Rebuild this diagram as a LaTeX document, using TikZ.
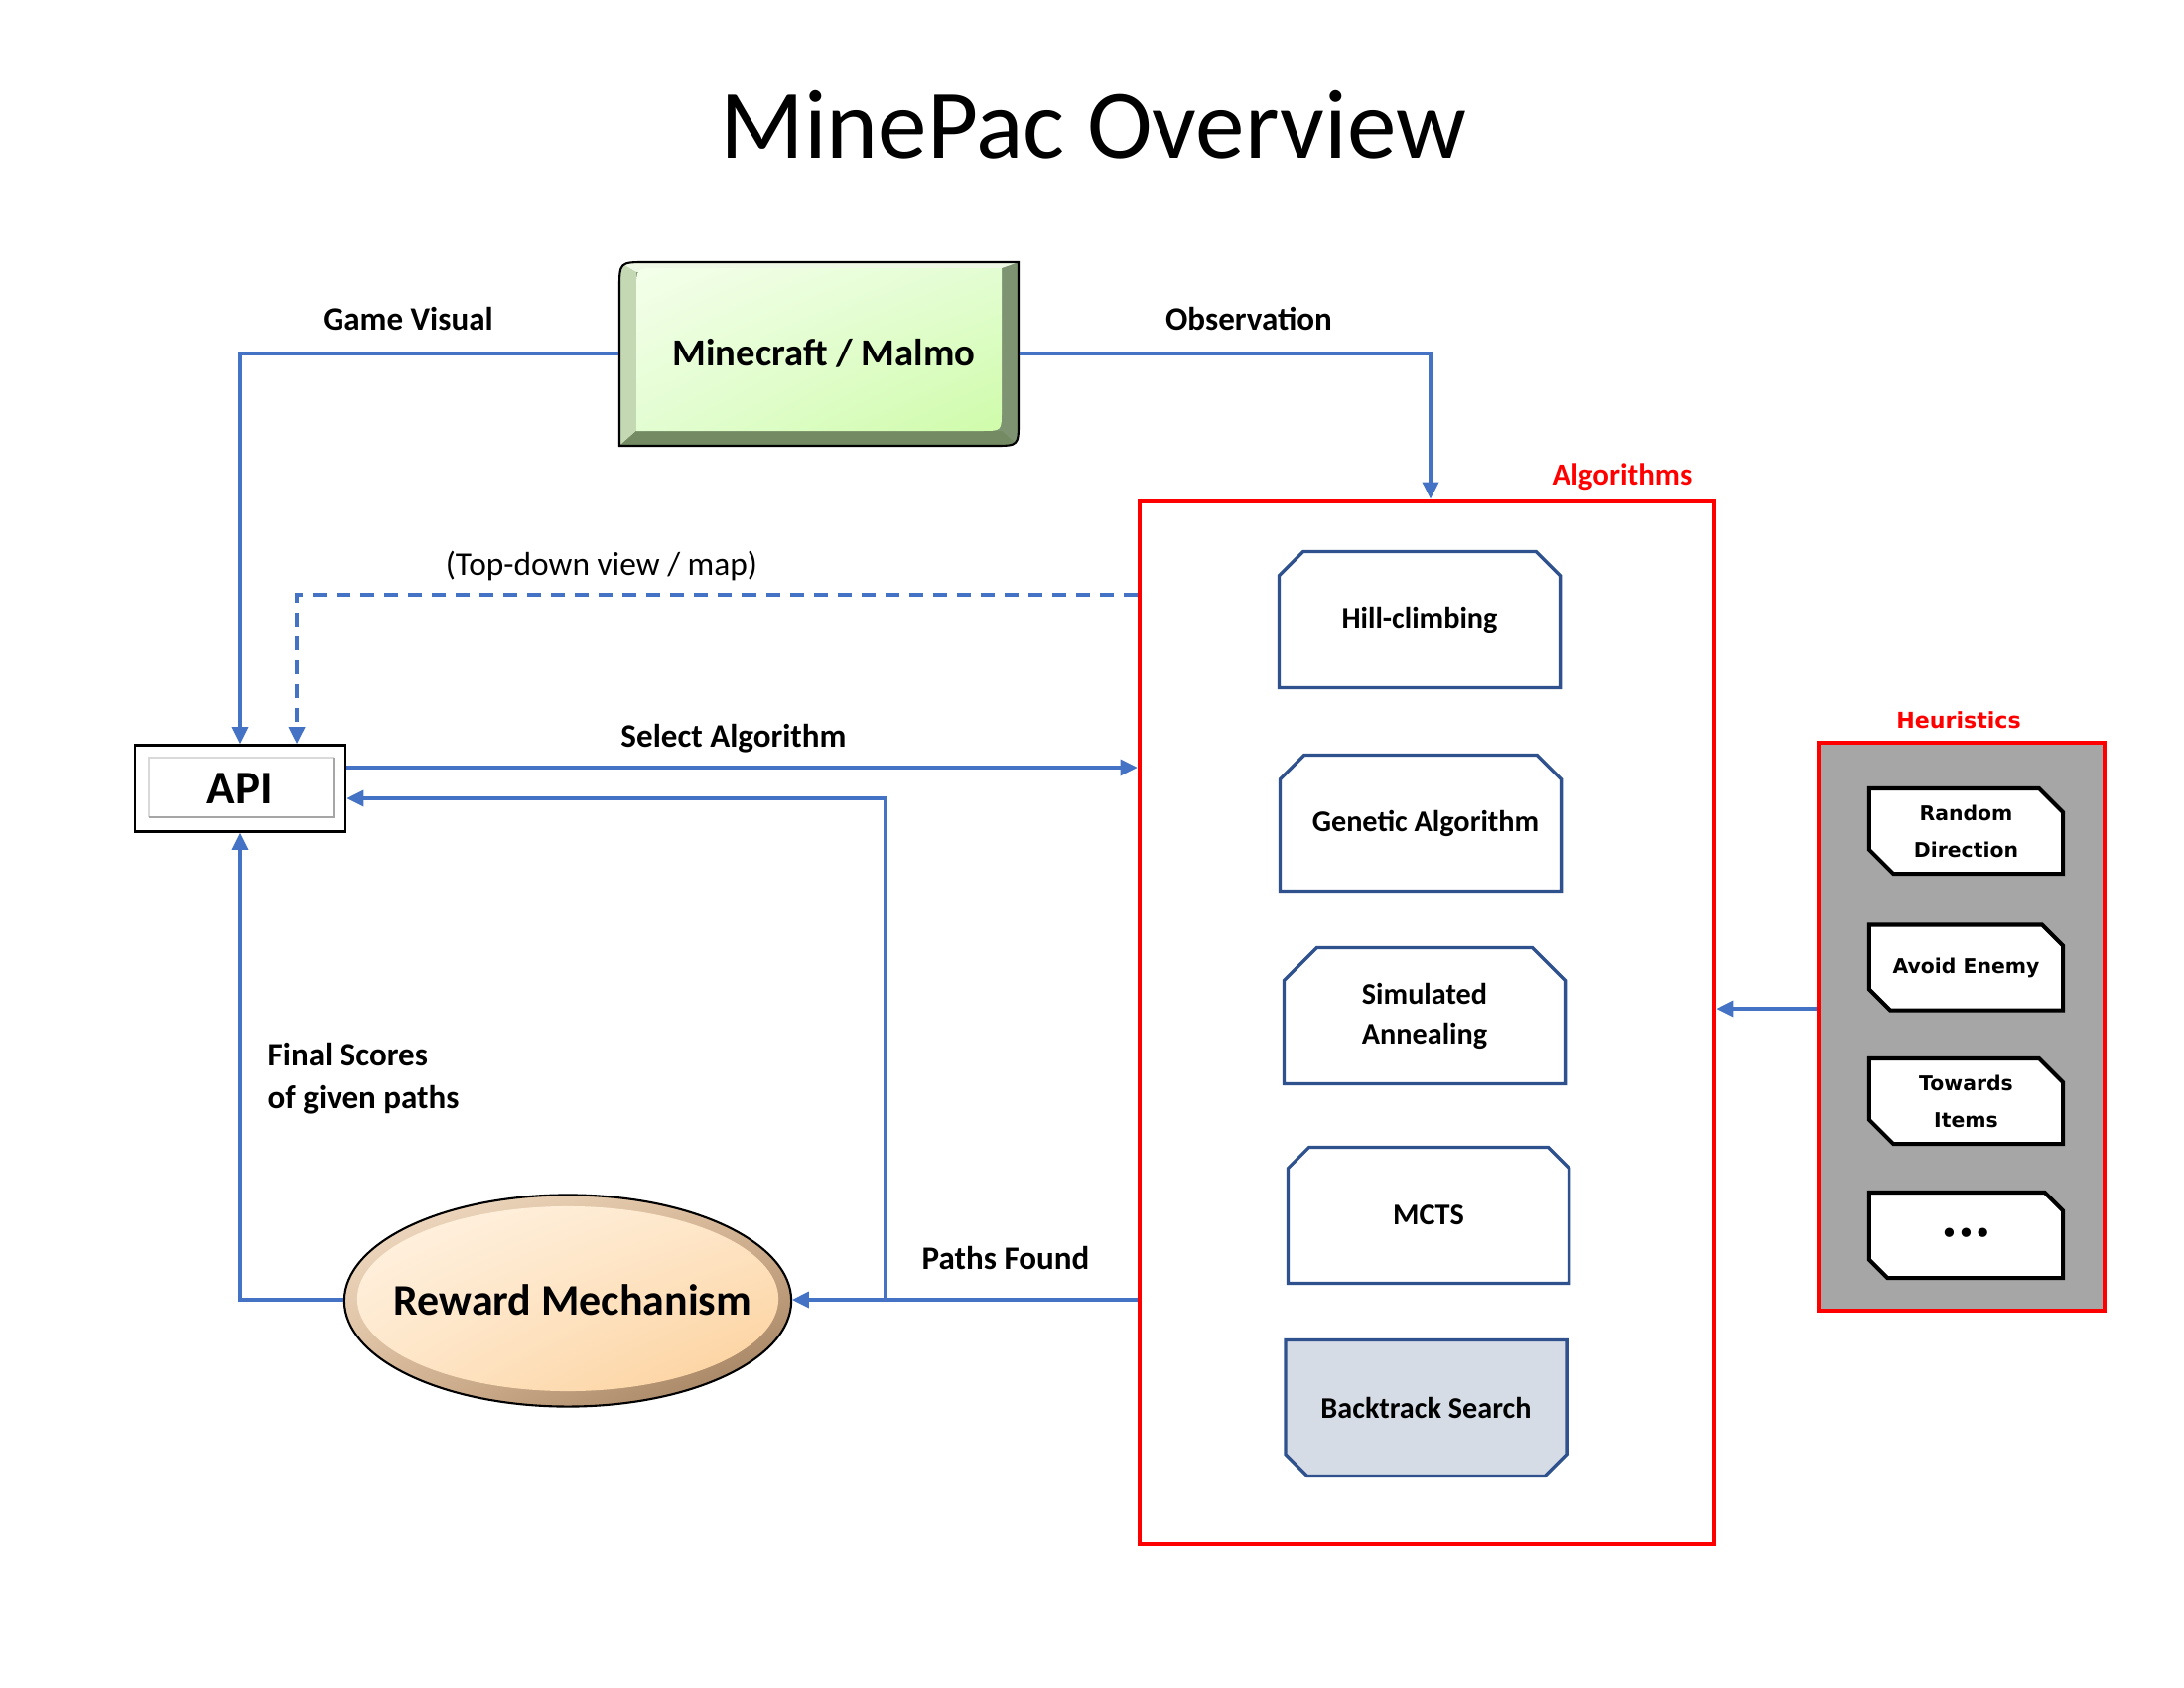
\documentclass[tikz,border=0pt]{standalone}
\usepackage{fontspec}
\setmainfont{Carlito}
\newfontfamily\djv{DejaVu Sans}
\usetikzlibrary{arrows.meta,shapes.misc,shapes.geometric,shadings}
\definecolor{connblue}{HTML}{4472C4}
\definecolor{algblue}{HTML}{2F528F}
\definecolor{btfill}{HTML}{D6DCE5}
\definecolor{heurgray}{HTML}{A6A6A6}
\definecolor{mcA}{HTML}{F4FFEA}
\definecolor{mcB}{HTML}{E3FDD2}
\definecolor{mcC}{HTML}{CFFCAA}
\definecolor{mcleft}{HTML}{C3D8B3}
\definecolor{mcbottom}{HTML}{738A63}
\definecolor{mcright}{HTML}{7D9371}
\definecolor{mctop}{HTML}{EEF8E4}
\definecolor{rmA}{HTML}{FFF3E4}
\definecolor{rmB}{HTML}{FEE6C8}
\definecolor{rmC}{HTML}{FCCF98}
\definecolor{ringA}{HTML}{F3E0CA}
\definecolor{ringB}{HTML}{D8B896}
\definecolor{ringC}{HTML}{9A7858}
\tikzset{
  connector/.style={draw=connblue, line width=0.95pt, -{Triangle[length=0.17cm,width=0.16cm]}},
  dashconn/.style={connector, dash pattern=on 0.14cm off 0.1cm},
  algbox/.style={chamfered rectangle, chamfered rectangle corners={north west,north east},
    chamfered rectangle xsep=0.22cm, draw=algblue, fill=white, line width=0.95pt,
    minimum width=2.83cm, minimum height=1.37cm, inner sep=0pt, align=center,
    font=\bfseries\fontsize{8.6}{11.4}\selectfont},
  heurbox/.style={chamfered rectangle, chamfered rectangle corners={north east,south west},
    chamfered rectangle xsep=0.13cm, draw=black, fill=white, line width=1.15pt,
    minimum width=1.95cm, minimum height=0.86cm, inner sep=0pt, align=center,
    font=\djv\bfseries\fontsize{5.8}{10.5}\selectfont},
  lbl/.style={font=\bfseries\fontsize{9.4}{12.2}\selectfont, inner sep=0pt},
  redbox/.style={draw=red, line width=1.2pt, inner sep=0pt},
}
\begin{document}
\begin{tikzpicture}[x=0.01cm,y=-0.01cm]
\useasboundingbox[fill=white] (0,0) rectangle (2200,1700);

% Title
\node[font=\fontsize{28.2}{34}\selectfont] (title) at (1101,126) {MinePac Overview};

% Minecraft / Malmo bevelled box
\begin{scope}
\path[clip] (624,449) -- (624,291) .. controls (624,264) .. (651,264) -- (1026,264) -- (1026,424) .. controls (1026,449) .. (1001,449) -- cycle;
\fill[mcright] (600,250) rectangle (1050,470);
\fill[mcleft] (624,264) -- (641,274) -- (641,434) -- (624,449) -- cycle;
\fill[mcbottom] (624,449) -- (641,434) -- (1009,434) -- (1026,449) -- cycle;
\fill[mctop] (624,264) -- (1026,264) -- (1009,270) -- (641,274) -- cycle;
\shade[upper left=mcA, upper right=mcB, lower left=mcB, lower right=mcC]
  (641,434) -- (641,292) .. controls (641,270) .. (663,270) -- (1009,270) -- (1009,414) .. controls (1009,434) .. (989,434) -- cycle;
\end{scope}
\draw[line width=0.6pt] (624,449) -- (624,291) .. controls (624,264) .. (651,264) -- (1026,264) -- (1026,424) .. controls (1026,449) .. (1001,449) -- cycle;
\node[font=\bfseries\fontsize{11}{13}\selectfont, minimum width=4.02cm, minimum height=1.85cm, inner sep=0pt] (mc) at (825,356) {\hspace*{0.1cm}Minecraft / Malmo};

% API box
\node[draw=black, line width=0.7pt, minimum width=2.12cm, minimum height=0.87cm, inner sep=0pt] (api) at (242,794) {};
\draw[color=black!15, line width=0.6pt] (150,823) -- (150,763) -- (336,763);
\draw[color=black!35, line width=0.6pt] (150,823) -- (336,823) -- (336,763);
\node[font=\bfseries\fontsize{13.4}{16}\selectfont, inner sep=0pt] (apit) at (242,794) {API};

% Algorithms container
\node[redbox, minimum width=5.79cm, minimum height=10.5cm] (alg) at (1437.5,1030) {};
\node[lbl, text=red, font=\bfseries\fontsize{8.8}{11}\selectfont] (lalg) at (1634,480) {Algorithms};

\node[algbox] (hill) at (1430,624) {Hill-climbing};
\node[algbox] (gen) at (1431,829) {\hspace*{0.1cm}Genetic Algorithm};
\node[algbox] (sim) at (1435,1023) {Simulated\\Annealing};
\node[algbox] (mcts) at (1439,1224) {MCTS};
\node[algbox, chamfered rectangle corners={south west,south east}, fill=btfill] (bt) at (1436.5,1418) {Backtrack Search};

% Heuristics container
\node[redbox, fill=heurgray, minimum width=2.88cm, minimum height=5.72cm] (heur) at (1976,1034) {};
\node[font=\djv\bfseries\fontsize{6.3}{7}\selectfont, text=red, inner sep=0pt] (lheu) at (1973,725) {Heuristics};
\node[heurbox] (h1) at (1980.5,837) {Random\\Direction};
\node[heurbox] (h2) at (1980.5,974.5) {Avoid Enemy};
\node[heurbox] (h3) at (1980.5,1109) {Towards\\Items};
\node[heurbox, font=\djv\bfseries\fontsize{7.5}{9}\selectfont] (h4) at (1980.5,1244) {•••};

% Reward Mechanism ellipse
\shade[upper left=ringA, upper right=ringB, lower left=ringB, lower right=ringC]
  (572,1310) ellipse [x radius=2.25cm, y radius=1.065cm];
\shade[upper left=rmA, upper right=rmB, lower left=rmB, lower right=rmC]
  (572,1308) ellipse [x radius=2.12cm, y radius=0.93cm];
\draw[line width=0.6pt] (572,1310) ellipse [x radius=2.25cm, y radius=1.065cm];
\node[ellipse, minimum width=4.5cm, minimum height=2.13cm, inner sep=0pt] (rm) at (572,1309) {};
\node[font=\bfseries\fontsize{12.5}{15}\selectfont, inner sep=0pt] (rmt) at (577,1309) {Reward Mechanism};

% helper coordinates
\coordinate (ydash) at (0,599);
\coordinate (ysel) at (0,773);
\coordinate (yret) at (0,804);
\coordinate (yheu) at (0,1016);
\coordinate (jn) at (892,1309);

% Connectors
\draw[connector] (mc.west) -| (api.north);
\draw[connector] (mc.east) -| ([xshift=0.035cm]alg.north);
\draw[dashconn] (alg.west |- ydash) -| ([xshift=0.57cm]api.north);
\draw[connector] (api.east |- ysel) -- (alg.west |- ysel);
\draw[connector] (alg.west |- rm.east) -- (rm.east);
\draw[connector] (jn) |- (api.east |- yret);
\draw[connector] (rm.west) -| (api.south);
\draw[connector] (heur.west |- yheu) -- (alg.east |- yheu);

% Labels
\node[lbl] (lgv) at (411,321) {Game Visual};
\node[lbl] (lobs) at (1258,321) {Observation};
\node[font=\fontsize{9.5}{12}\selectfont, inner sep=0pt] (ltd) at (606,570) {(Top-down view / map)};
\node[lbl] (lsel) at (739,744) {Select Algorithm};
\node[lbl, align=left, anchor=west] (lfin) at (269,1086) {Final Scores\\of given paths};
\node[lbl] (lpf) at (1013,1267) {Paths Found};
\end{tikzpicture}
\end{document}
